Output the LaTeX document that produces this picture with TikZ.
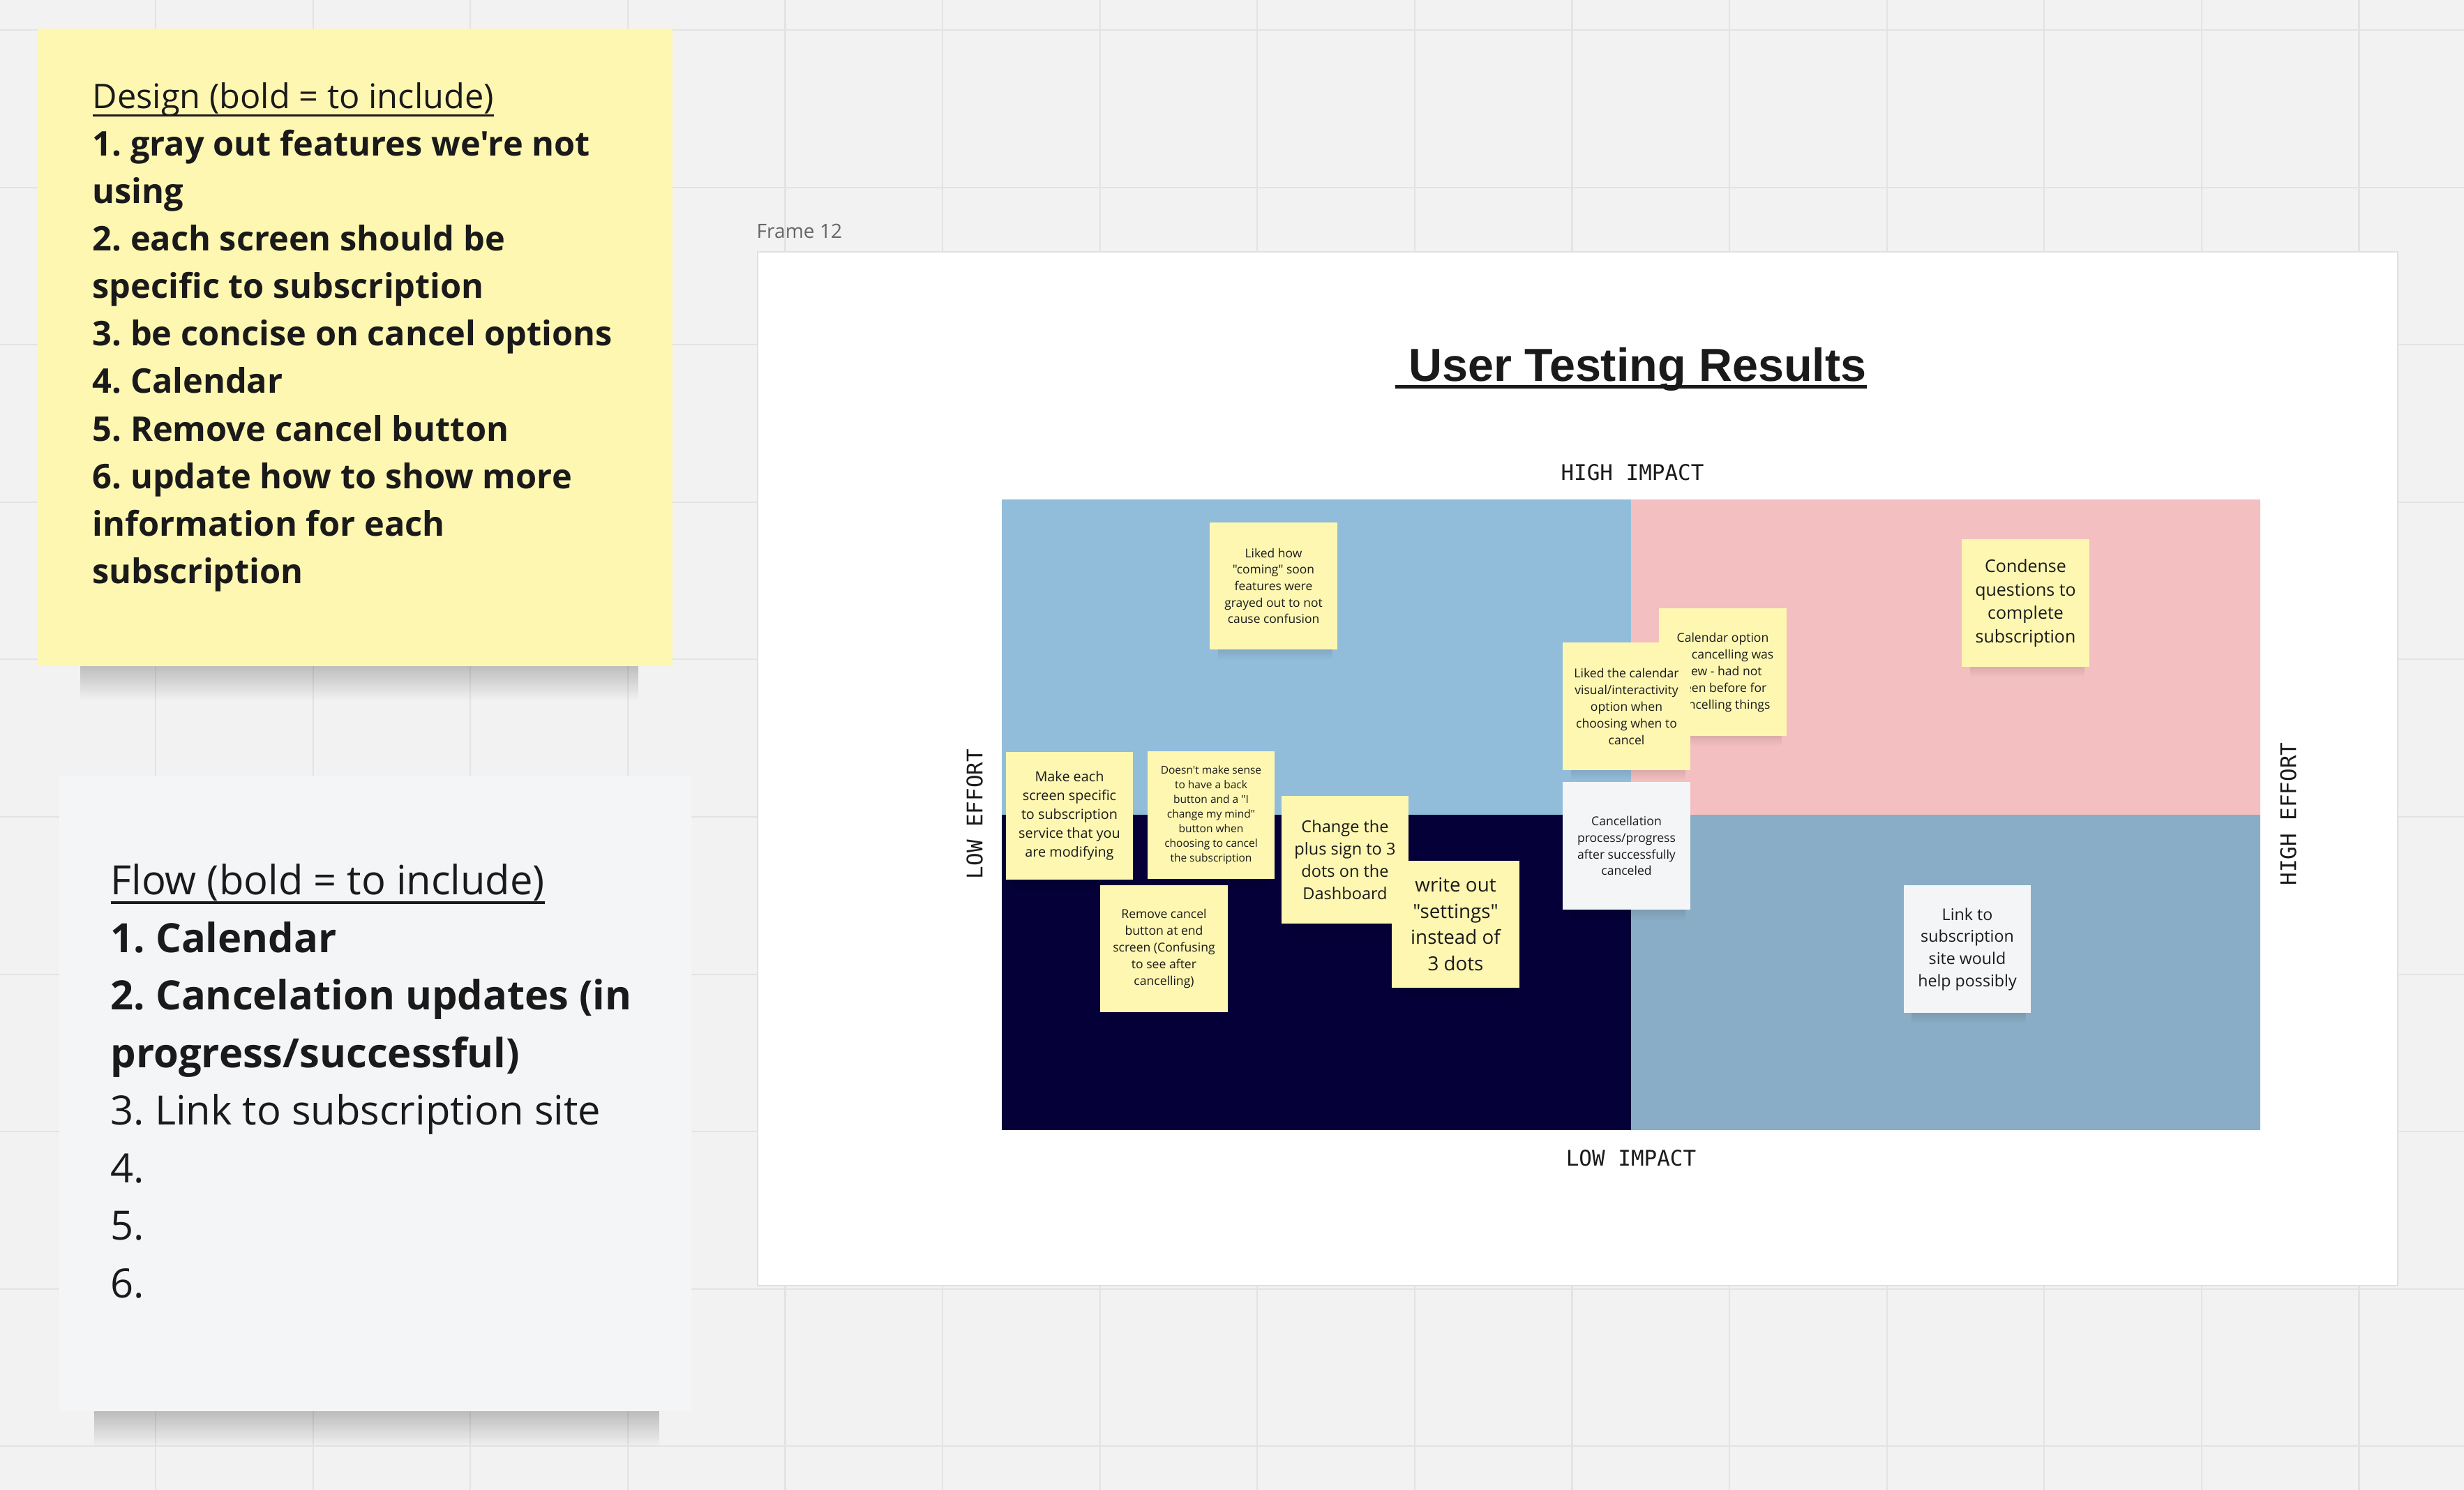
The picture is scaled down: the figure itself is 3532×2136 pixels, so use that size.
\documentclass[tikz,border=0pt]{standalone}
\usepackage{fontspec}
\setmainfont{Open Sans}[Ligatures=TeXOff]
\newfontfamily\titlefont{Liberation Sans}
\newfontfamily\axisfont{DejaVu Sans Mono}
\usetikzlibrary{fadings}
\frenchspacing

\definecolor{board}{HTML}{F2F2F2}
\definecolor{gridline}{HTML}{E3E3E3}
\definecolor{noteyellow}{HTML}{FEF7B2}
\definecolor{notewhite}{HTML}{F4F5F7}
\definecolor{ink}{HTML}{1A1A1A}
\definecolor{qblue}{HTML}{92BDDA}
\definecolor{qpink}{HTML}{F4BFC0}
\definecolor{qnavy}{HTML}{050038}
\definecolor{qsteel}{HTML}{89ADC6}

\newcommand{\notesize}[2]{\fontsize{#1pt}{#2pt}\selectfont}
\newcommand{\noteheading}[1]{\setbox0\hbox{#1}\rlap{\rule[-0.23em]{\wd0}{0.065em}}\box0}
\newcommand{\stickyshadow}[2]{\fill[black, opacity=0.3, path fading=south] (#1-80,#2+62) rectangle (#1+84,#2+106);}

\begin{document}
\begin{tikzpicture}[x=0.01cm, y=-0.01cm,
  sticky/.style={fill=noteyellow, minimum width=1.82cm, minimum height=1.82cm, inner sep=0pt, align=center, text=ink},
  whitesticky/.style={sticky, fill=notewhite},
  axislabel/.style={font={\axisfont\notesize{8.8}{10}}, text=ink, inner sep=0pt}]
\useasboundingbox (0,0) rectangle (3532,2136);
\fill[board] (0,0) rectangle (3532,2136);

% board grid
\foreach \gx in {0,...,15}
  \draw[gridline, line width=0.6pt] ({-2.5+225.6*\gx},0) -- ++(0,2136);
\foreach \gy in {0,...,9}
  \draw[gridline, line width=0.6pt] (0,{43+225.6*\gy}) -- ++(3532,0);

% Design note
\fill[black, opacity=0.45, path fading=south] (115,900) rectangle (915,1004);
\fill[noteyellow] (54,41) rectangle (964,955);
\node[anchor=north west, inner sep=0pt, align=left, text=ink, font=\notesize{13.85}{19.35}] (designlist) at (132,118)
  {\noteheading{Design (bold = to include)}\\
   \textbf{1. gray out features we're not}\\
   \textbf{using}\\
   \textbf{2. each screen should be}\\
   \textbf{specific to subscription}\\
   \textbf{3. be concise on cancel options}\\
   \textbf{4. Calendar}\\
   \textbf{5. Remove cancel button}\\
   \textbf{6. update how to show more}\\
   \textbf{information for each}\\
   \textbf{subscription}};

% Flow note
\fill[black, opacity=0.45, path fading=south] (135,1970) rectangle (945,2074);
\fill[notewhite] (85,1112) rectangle (991,2023);
\node[anchor=north west, inner sep=0pt, align=left, text=ink, font=\notesize{16.45}{23.47}] (flowlist) at (158,1238)
  {\noteheading{Flow (bold = to include)}\\
   \textbf{1. Calendar}\\
   \textbf{2. Cancelation updates (in}\\
   \textbf{progress/successful)}\\
   3. Link to subscription site\\
   4.\\
   5.\\
   6.};

% Frame
\node[anchor=base west, inner sep=0pt, text=black!60, font=\notesize{8}{10}] (framelabel) at (1084,341) {Frame 12};
\draw[draw=black!12, fill=white, line width=0.6pt] (1086,361) rectangle (3437,1843);

% Title
\node[anchor=base, inner sep=0pt, text=ink, font={\titlefont\bfseries\notesize{18.9}{22}}] (title) at (2338,546.7) {\ User Testing Results};
\draw[ink, line width=1.4pt] ([yshift=-2.3pt]title.base west) -- ([yshift=-2.3pt]title.base east);

% Quadrants
\fill[qblue] (1436,716) rectangle (2338,1168);
\fill[qpink] (2338,716) rectangle (3240,1168);
\fill[qnavy] (1436,1168) rectangle (2338,1620);
\fill[qsteel] (2338,1168) rectangle (3240,1620);

% Axis labels
\node[axislabel] (highimpact) at (2340,677) {HIGH IMPACT};
\node[axislabel] (lowimpact) at (2338,1660) {LOW IMPACT};
\node[axislabel, rotate=90] (loweffort) at (1397,1167) {LOW EFFORT};
\node[axislabel, rotate=90] (higheffort) at (3280,1167) {HIGH EFFORT};

% Stickies
\stickyshadow{1825.5}{840}
\node[sticky, font=\notesize{4.96}{6.74}] (likedhow) at (1825.5,840)
  {Liked how\\"coming" soon\\features were\\grayed out to not\\cause confusion};

\stickyshadow{1533}{1169.5}
\node[sticky, font=\notesize{5.63}{7.65}] (makeeach) at (1533,1169.5)
  {Make each\\screen specific\\to subscription\\service that you\\are modifying};

\stickyshadow{1736}{1168.5}
\node[sticky, font=\notesize{4.41}{6.0}] (backbutton) at (1736,1168.5)
  {Doesn't make sense\\to have a back\\button and a "I\\change my mind"\\button when\\choosing to cancel\\the subscription};

\stickyshadow{1668.5}{1360}
\node[sticky, font=\notesize{5.0}{6.8}] (removecancel) at (1668.5,1360)
  {Remove cancel\\button at end\\screen (Confusing\\to see after\\cancelling)};

\stickyshadow{1928}{1232.5}
\node[sticky, font=\notesize{6.7}{9.1}] (plussign) at (1928,1232.5)
  {Change the\\plus sign to 3\\dots on the\\Dashboard};

\stickyshadow{2086.5}{1325}
\node[sticky, font=\notesize{7.9}{10.7}] (writeout) at (2086.5,1325)
  {write out\\"settings"\\instead of\\3 dots};

\stickyshadow{2469.5}{963.5}
\node[sticky, font=\notesize{5.0}{6.83}] (calendaroption) at (2469.5,963.5)
  {Calendar option\\for cancelling was\\new - had not\\seen before for\\cancelling things};

\stickyshadow{2331.5}{1012.5}
\node[sticky, font=\notesize{5.0}{6.83}] (likedcalendar) at (2331.5,1012.5)
  {Liked the calendar\\visual/interactivity\\option when\\choosing when to\\cancel};

\stickyshadow{2331.5}{1212.5}
\node[whitesticky, font=\notesize{5.0}{6.8}] (cancelprogress) at (2331.5,1212.5)
  {Cancellation\\process/progress\\after successfully\\canceled};

\stickyshadow{2903.5}{864.5}
\node[sticky, font=\notesize{7.1}{9.64}] (condense) at (2903.5,864.5)
  {Condense\\questions to\\complete\\subscription};

\stickyshadow{2820}{1360.5}
\node[whitesticky, font=\notesize{6.6}{9.0}] (linksite) at (2820,1360.5)
  {Link to\\subscription\\site would\\help possibly};
\end{tikzpicture}
\end{document}
